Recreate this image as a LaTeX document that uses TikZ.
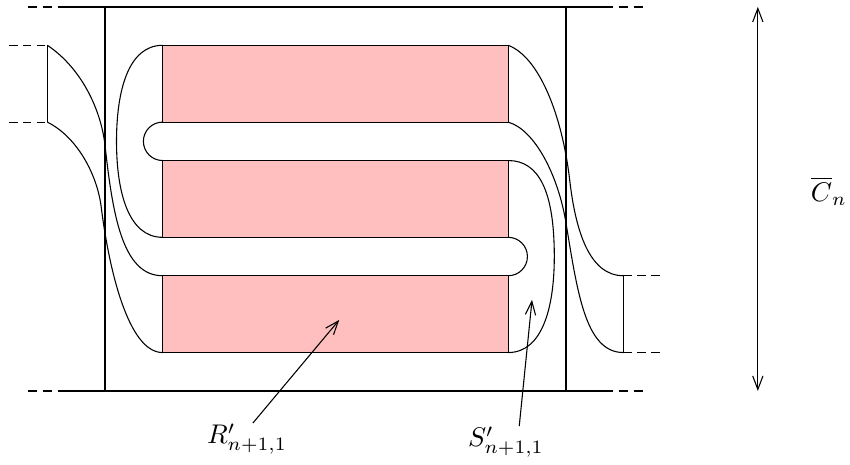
\documentclass[tikz,border=0pt]{standalone}
\usepackage{amsmath}
\usepackage{tikz}
\usetikzlibrary{arrows.meta}
\definecolor{StripPink}{HTML}{FFBFBF}
\tikzset{
  frame/.style={thick},
  edge/.style={thin},
  frametail/.style={thick, dash pattern=on 3.3pt off 2.2pt},
  tail/.style={thin, dash pattern=on 3.2pt off 1.9pt},
  block/.style={draw=black, thin, fill=StripPink},
  pointer/.style={-{Straight Barb[length=5pt,width=3.8pt]}, thin},
  span/.style={{Straight Barb[length=5pt,width=3.8pt]}-{Straight Barb[length=5pt,width=3.8pt]}, thin},
  tag/.style={inner sep=0pt}
}

\begin{document}
\begin{tikzpicture}[x=0.5cm, y=0.5cm]
  \useasboundingbox (-2.734,-1.927) rectangle (19.4,10.18);
  \draw[frame] (0,0) -- (0,10);
  \draw[frame] (12,0) -- (12,10);
  \draw[frame] (-1,10) -- (13,10);
  \draw[frame] (-1,0) -- (13,0);
  \draw[frametail] (-2,10) -- (-1,10);
  \draw[frametail] (-2,0) -- (-1,0);
  \draw[frametail] (13,10) -- (14,10);
  \draw[frametail] (13,0) -- (14,0);

  \foreach \y in {1,4,7}
    \draw[block] (1.5,\y) rectangle (10.5,\y+2);
  \draw[edge] (1.5,7) arc[start angle=90, end angle=270, radius=0.5];
  \draw[edge] (10.5,4) arc[start angle=90, end angle=-90, radius=0.5];

  \draw[edge] (-1.5,9) .. controls (-0.6,8.4) and (-0.1,7.3) .. (0,6.4)
    .. controls (0.2,4.6) and (0.45,3) .. (1.5,3);
  \draw[edge] (-1.5,7) .. controls (-0.7,6.6) and (-0.2,5.6) .. (-0.1,4.8)
    .. controls (0.1,3.2) and (0.6,1) .. (1.5,1);
  \draw[edge] (1.5,9) .. controls (0.6,9) and (0.3,7.8) .. (0.3,6.5)
    .. controls (0.3,5.2) and (0.6,4) .. (1.5,4);
  \draw[edge] (10.5,7) .. controls (11.2,6.8) and (11.8,5.6) .. (12,4.4)
    .. controls (12.3,2.6) and (12.5,1) .. (13.5,1);
  \draw[edge] (10.5,9) .. controls (11.3,8.7) and (11.9,7.2) .. (12.1,5.5)
    .. controls (12.25,4.2) and (12.6,3) .. (13.5,3);
  \draw[edge] (10.5,6) .. controls (11.3,6) and (11.7,5.2) .. (11.7,3.5)
    .. controls (11.7,2.2) and (11.4,1) .. (10.5,1);

  \draw[edge] (-1.5,7) -- (-1.5,9);
  \draw[tail] (-2.5,9) -- (-1.5,9);
  \draw[tail] (-2.5,7) -- (-1.5,7);
  \draw[edge] (13.5,1) -- (13.5,3);
  \draw[tail] (13.5,3) -- (14.5,3);
  \draw[tail] (13.5,1) -- (14.5,1);

  \coordinate (rtip) at (6.1,1.85);
  \coordinate (stip) at (11.12,2.37);
  \node[tag] (rlabel) at (3.7,-1.25) {$R'_{n+1,1}$};
  \node[tag] (slabel) at (10.44,-1.33) {$S'_{n+1,1}$};
  \draw[pointer] (rlabel.70) -- (rtip);
  \draw[pointer] (slabel.50) -- (stip);

  \coordinate (ctop) at (17,10);
  \coordinate (cbot) at (17,0);
  \draw[span] (cbot) -- (ctop);
  \node (clabel) at (18.85,5.2) {$\overline{C}_n$};
\end{tikzpicture}
\end{document}
